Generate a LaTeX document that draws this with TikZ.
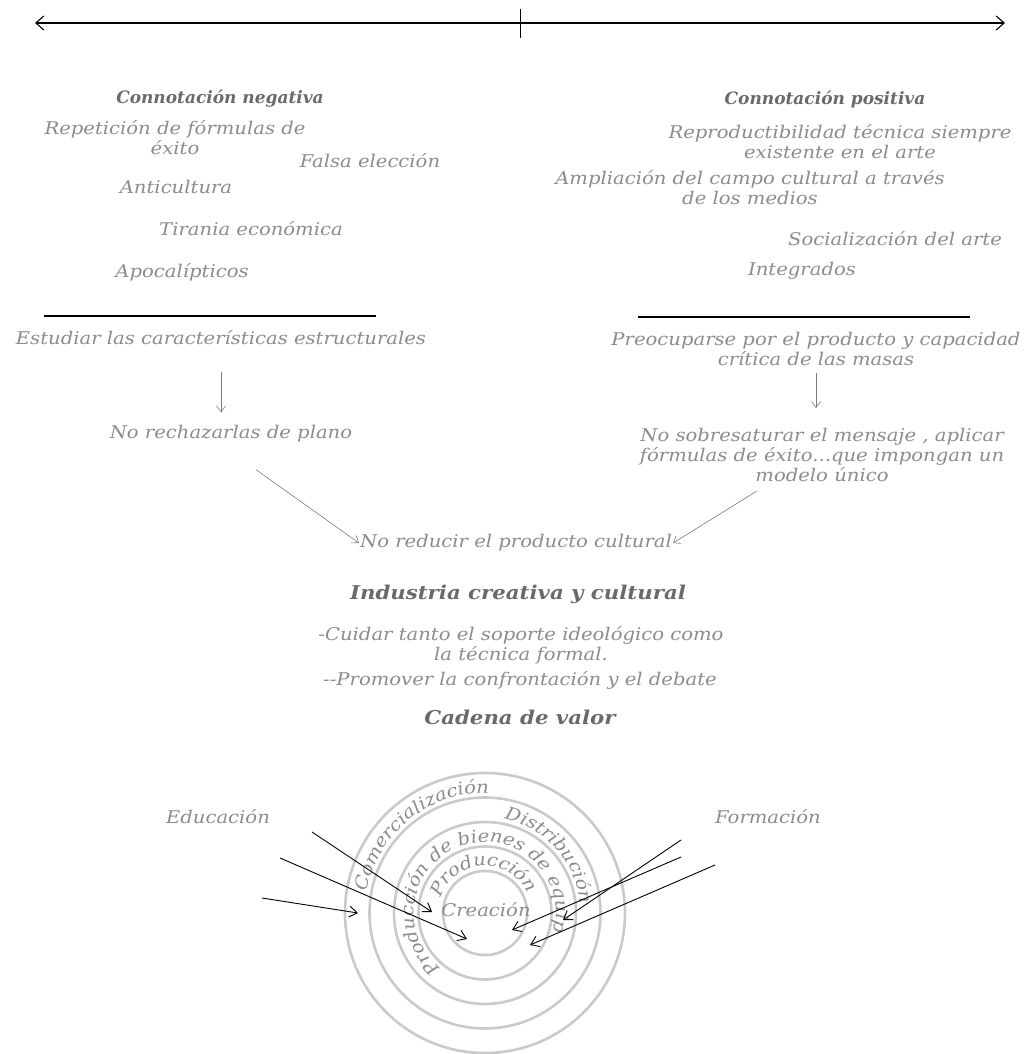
\documentclass[tikz,border=0pt]{standalone}
\usepackage{fontspec}
\setmainfont{DejaVu Serif}
\newfontfamily\handfam{DejaVu Serif}[FakeStretch=1.12]
\usepackage{tikz}
\usetikzlibrary{arrows.meta,positioning,calc,decorations.text}
\definecolor{txtgray}{HTML}{8C8C8C}
\definecolor{headgray}{HTML}{6A6A6A}
\definecolor{ringgray}{HTML}{CACACA}
\definecolor{arrgray}{HTML}{7A7A7A}
\newcommand\handfont{\handfam\fontsize{17.5}{20}\selectfont\itshape}
\newcommand\headfont{\fontsize{17}{20}\selectfont\itshape\bfseries}
\newcommand\bigheadfont{\handfam\fontsize{19}{22}\selectfont\itshape\bfseries}
\newcommand\ringfont{\handfam\fontsize{17.5}{18}\selectfont\itshape}

\begin{document}
\begin{tikzpicture}[x=1pt,y=-1pt,every node/.style={align=center,inner sep=1pt},lbl/.style={text=txtgray,font=\handfont},head/.style={text=headgray,font=\headfont},bighead/.style={text=headgray,font=\bigheadfont},garrow/.style={draw=arrgray,line width=0.6pt,-{Straight Barb[length=6pt,width=9pt]}},karrow/.style={black,line width=0.9pt,-{Straight Barb[length=8pt,width=11pt]}},ring/.style={draw=ringgray,line width=2.6pt},sepline/.style={black,line width=1.1pt}]
\useasboundingbox (0,0) rectangle (1028,1054);
\coordinate (axl) at (35,23);
\coordinate (axr) at (1005,23);
\coordinate (tickt) at (520,9);
\coordinate (tickb) at (520,38);
\draw[line width=1.1pt,{Straight Barb[length=8pt,width=14pt]}-{Straight Barb[length=8pt,width=14pt]}] (axl)--(axr);
\draw[line width=0.9pt] (tickt)--(tickb);
\node[head] (neg) at (220,99) {Connotación negativa};
\node[head] (pos) at (825,99) {Connotación positiva};
\node[lbl] (rep) at (175,138) {Repetición de fórmulas de\\ éxito};
\node[lbl] (fals) at (370,161) {Falsa elección};
\node[lbl] (anti) at (176,187) {Anticultura};
\node[lbl] (tir) at (251,229) {Tirania económica};
\node[lbl] (apoc) at (182,272) {Apocalípticos};
\node[lbl] (repro) at (840,142) {Reproductibilidad técnica siempre\\ existente en el arte};
\node[lbl] (ampl) at (750,188) {Ampliación del campo cultural a través\\ de los medios};
\node[lbl] (soc) at (895,239) {Socialización del arte};
\node[lbl] (integ) at (802,271) {Integrados};
\coordinate (sla) at (44,316);
\coordinate (slb) at (376,316);
\coordinate (sra) at (638,317);
\coordinate (srb) at (970,317);
\draw[sepline] (sla)--(slb);
\draw[sepline] (sra)--(srb);
\node[lbl] (estud) at (221,338) {Estudiar las características estructurales};
\node[lbl] (preoc) at (816,349) {Preocuparse por el producto y capacidad\\ crítica de las masas};
\node[lbl] (rech) at (231,434) {No rechazarlas de plano};
\node[lbl] (sobre) at (822,455) {No sobresaturar el mensaje , aplicar\\ fórmulas de éxito...que impongan un\\ modelo único};
\node[lbl] (reduc) at (516,543) {No reducir el producto cultural};
\draw[garrow,shorten <=26pt,shorten >=12pt] (estud.south)--(estud.south |- rech.north);
\draw[garrow,shorten <=6pt,shorten >=19pt] (preoc.south)--(preoc.south |- sobre.north);
\draw[garrow] ([xshift=25pt,yshift=-26pt]rech.south)--(reduc.west);
\draw[garrow] ([xshift=-65pt,yshift=-8pt]sobre.south)--(reduc.east);
\node[bighead] (ind) at (518,594) {Industria creativa y cultural};
\node[lbl] (cuid) at (521,645) {-Cuidar tanto el soporte ideológico como\\ la técnica formal.};
\node[lbl] (prom) at (520,680) {-{}-Promover la confrontación y el debate};
\node[bighead] (cad) at (520,717) {Cadena de valor};
\coordinate (ctr) at (485,913);
\foreach \r in {42,66.5,91,115.5,140}
  \draw[ring] (ctr) circle[radius=\r pt];
\node[lbl] (crea) at (486,910) {Creación};
\path[decorate,decoration={text along path,text align=center,text={|\ringfont\color{txtgray}|Producción}}] (ctr) ++(163:47pt) arc[start angle=163,end angle=22,radius=47pt];
\path[decorate,decoration={text along path,text align=center,text={|\ringfont\color{txtgray}|Producción de bienes de equipo}}] (ctr) ++(222:71pt) arc[start angle=222,end angle=-16,radius=71pt];
\path[decorate,decoration={text along path,text align=center,text={|\ringfont\color{txtgray}|Distribución}}] (ctr) ++(82:96pt) arc[start angle=82,end angle=2,radius=96pt];
\path[decorate,decoration={text along path,text align=center,text={|\ringfont\color{txtgray}|Comercialización}}] (ctr) ++(172:120pt) arc[start angle=172,end angle=86,radius=120pt];
\node[lbl] (edu) at (218,817) {Educación};
\node[lbl] (form) at (768,817) {Formación};
\coordinate (l1) at (312,832);
\coordinate (l2) at (280,858);
\coordinate (l3) at (262,898);
\coordinate (r1) at (681,840);
\coordinate (r2) at (681,857);
\coordinate (r3) at (715,865);
\coordinate (e1) at (432,912);
\coordinate (e2) at (467,939);
\coordinate (e3) at (358,913);
\coordinate (f1) at (563,920);
\coordinate (f2) at (512,930);
\coordinate (f3) at (530,945);
\draw[karrow] (l1)--(e1);
\draw[karrow] (l2)--(e2);
\draw[karrow] (l3)--(e3);
\draw[karrow] (r1)--(f1);
\draw[karrow] (r2)--(f2);
\draw[karrow] (r3)--(f3);
\end{tikzpicture}
\end{document}
